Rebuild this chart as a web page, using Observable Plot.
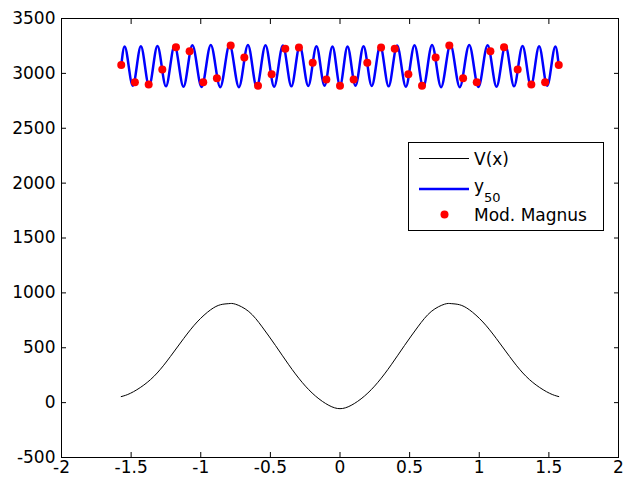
<!DOCTYPE html>
<html><head><meta charset="utf-8">
<script src="https://cdn.jsdelivr.net/npm/d3@7"></script>
<script src="https://cdn.jsdelivr.net/npm/@observablehq/plot@0.6"></script>
<style>
html,body{margin:0;padding:0;background:#fff;}
#wrap{position:relative;width:625px;height:479px;overflow:hidden;}
#legend{position:absolute;left:408px;top:142px;}
</style></head><body>
<div id="wrap">
<svg id="legend" width="197" height="90" font-family="DejaVu Sans" font-size="17">
<rect x="0.5" y="0.5" width="195" height="88" fill="#fff" stroke="#000"/>
<line x1="11" x2="61" y1="16.5" y2="16.5" stroke="#000" stroke-width="1"/>
<text x="66" y="22.5">V(x)</text>
<line x1="11" x2="61" y1="47" y2="47" stroke="#0000ff" stroke-width="2.5"/>
<text x="66" y="50">y<tspan font-size="13" dy="10">50</tspan></text>
<circle cx="36.5" cy="72.5" r="4" fill="#ff0000"/>
<text x="66" y="78.5">Mod. Magnus</text>
</svg>
</div>
<script>
// Axis ticks
const xTicks = [-2, -1.5, -1, -0.5, 0, 0.5, 1, 1.5, 2];
const yTicks = [-500, 0, 500, 1000, 1500, 2000, 2500, 3000, 3500];

// V(x) potential (black line)
const vX = [-1.571, -1.505, -1.409, -1.313, -1.218, -1.122, -1.026, -0.930, -0.858, -0.799, -0.751, -0.655, -0.559, -0.463, -0.368, -0.272, -0.176, -0.080, 0,
            0.080, 0.176, 0.272, 0.368, 0.463, 0.559, 0.655, 0.751, 0.799, 0.858, 0.930, 1.026, 1.122, 1.218, 1.313, 1.409, 1.505, 1.571];
const vY = [55, 85, 160, 270, 420, 585, 735, 845, 892, 902, 897, 830, 690, 520, 345, 185, 60, -25, -55,
            -25, 60, 185, 345, 520, 690, 830, 897, 902, 892, 845, 735, 585, 420, 270, 160, 85, 55];

// y_50 (blue line): read extrema positions and values
const bX = [-1.571, -1.547, -1.488, -1.430, -1.371, -1.311, -1.250, -1.188, -1.124, -1.060, -0.994, -0.928, -0.860, -0.793, -0.726, -0.661, -0.598, -0.535, -0.473, -0.410, -0.349, -0.289, -0.228, -0.169, -0.111, -0.054, 0,
            0.054, 0.111, 0.169, 0.228, 0.289, 0.349, 0.410, 0.473, 0.535, 0.598, 0.661, 0.726, 0.793, 0.860, 0.928, 0.994, 1.060, 1.124, 1.188, 1.250, 1.311, 1.371, 1.430, 1.488, 1.547, 1.571];
const bY = [3072, 3246, 2887, 3248, 2885, 3250, 2882, 3254, 2879, 3257, 2876, 3259, 2874, 3260, 2874, 3259, 2876, 3257, 2879, 3254, 2882, 3250, 2885, 3248, 2887, 3246, 2888,
            3246, 2887, 3248, 2885, 3250, 2882, 3254, 2879, 3257, 2876, 3259, 2874, 3260, 2874, 3259, 2876, 3257, 2879, 3254, 2882, 3250, 2885, 3248, 2887, 3246, 3072];

// Mod. Magnus (red dots)
const mX = [-1.571, -1.473, -1.374, -1.276, -1.178, -1.080, -0.982, -0.884, -0.785, -0.687, -0.589, -0.491, -0.393, -0.295, -0.196, -0.098, 0,
            0.098, 0.196, 0.295, 0.393, 0.491, 0.589, 0.687, 0.785, 0.884, 0.982, 1.080, 1.178, 1.276, 1.374, 1.473, 1.571];
const mY = [3076, 2920, 2899, 3035, 3239, 3202, 2920, 2956, 3254, 3144, 2887, 2993, 3224, 3236, 3097, 2944, 2887,
            2944, 3097, 3236, 3224, 2993, 2887, 3144, 3254, 2956, 2920, 3202, 3239, 3035, 2899, 2920, 3076];

const vData = vX.map((x, i) => ({x, y: vY[i]}));
const bData = bX.map((x, i) => ({x, y: bY[i]}));
const mData = mX.map((x, i) => ({x, y: mY[i]}));

const fmt = d => String(d);
const chart = Plot.plot({
  width: 625, height: 479,
  marginLeft: 61, marginRight: 7, marginTop: 18, marginBottom: 22,
  style: {fontFamily: "DejaVu Sans", fontSize: "17px", color: "#000", background: "#fff"},
  x: {domain: [-2, 2]},
  y: {domain: [-500, 3500]},
  marks: [
    Plot.axisX(xTicks, {anchor: "bottom", tickSize: -5, tickPadding: 8, tickFormat: fmt, label: null}),
    Plot.axisX(xTicks, {anchor: "top", tickSize: -5, tickFormat: () => "", label: null}),
    Plot.axisY(yTicks, {anchor: "left", tickSize: -5, tickPadding: 11, tickFormat: fmt, label: null}),
    Plot.axisY(yTicks, {anchor: "right", tickSize: -5, tickFormat: () => "", label: null}),
    Plot.frame({stroke: "#000"}),
    Plot.line(vData, {x: "x", y: "y", stroke: "#000", strokeWidth: 1, curve: "natural"}),
    Plot.line(bData, {x: "x", y: "y", stroke: "#0000ff", strokeWidth: 2.5, curve: "monotone-x"}),
    Plot.dot(mData, {x: "x", y: "y", r: 4, fill: "#ff0000", stroke: "none"})
  ]
});
const wrap = document.getElementById("wrap");
wrap.insertBefore(chart, wrap.firstChild);
</script>
</body></html>
